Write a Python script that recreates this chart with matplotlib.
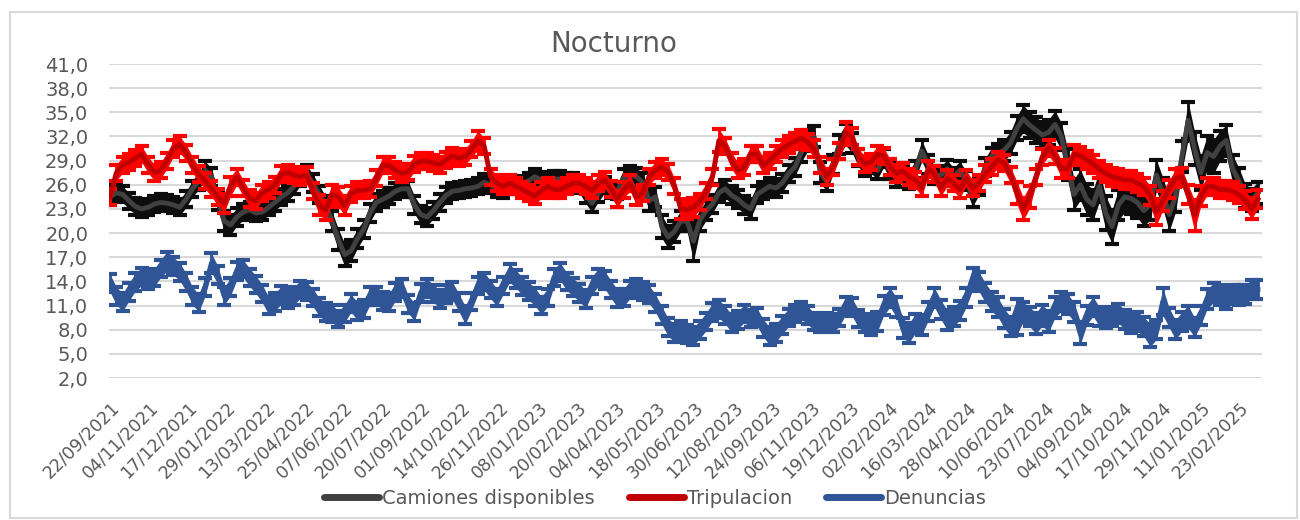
import numpy as np
import matplotlib
matplotlib.use('Agg')
import matplotlib.pyplot as plt
from matplotlib.lines import Line2D
from matplotlib.patches import Rectangle

# valores semanales (una muestra cada 7 categorias diarias)
camiones = [
    24.5, 25.0, 24.8, 24.0, 23.3, 23.0, 23.2, 23.6, 23.8, 23.7,
    23.5, 23.2, 24.2, 25.5, 26.5, 27.8, 27.0, 24.0, 21.5, 21.0,
    22.0, 22.6, 22.9, 22.5, 22.6, 23.2, 23.8, 24.5, 25.0, 25.8,
    27.0, 27.3, 26.2, 24.8, 23.5, 21.5, 19.2, 17.3, 17.8, 19.3,
    20.5, 22.5, 23.8, 24.2, 24.6, 25.2, 25.5, 25.5, 23.5, 22.3,
    22.0, 22.8, 23.8, 24.7, 25.2, 25.3, 25.5, 25.6, 25.8, 26.3,
    26.0, 25.5, 25.4, 25.8, 25.9, 26.1, 26.5, 27.0, 26.6, 26.3,
    26.7, 26.7, 26.5, 26.4, 26.0, 24.8, 23.7, 24.9, 26.0, 25.4,
    25.2, 26.8, 27.2, 27.0, 26.3, 24.0, 24.5, 20.8, 19.5, 20.2,
    21.5, 21.5, 19.0, 21.6, 22.8, 23.6, 25.0, 25.5, 24.7, 24.2,
    23.5, 23.0, 24.8, 25.3, 25.8, 25.6, 26.2, 27.4, 28.2, 30.0,
    31.5, 32.0, 27.5, 26.4, 28.5, 31.0, 32.2, 31.2, 29.4, 28.2,
    28.5, 27.8, 29.3, 27.8, 26.8, 27.4, 26.6, 27.9, 30.2, 28.5,
    27.2, 27.2, 28.0, 27.0, 27.8, 26.5, 24.5, 25.8, 28.2, 29.5,
    29.9, 30.3, 31.2, 33.0, 34.2, 33.4, 32.8, 32.2, 32.5, 33.5,
    32.0, 28.5, 24.8, 26.0, 24.2, 23.5, 25.8, 22.5, 20.8, 23.5,
    24.5, 24.3, 23.8, 22.8, 23.5, 27.2, 25.0, 22.3, 24.5, 29.5,
    34.0, 30.5, 27.5, 30.0, 29.5, 30.8, 31.5, 28.0, 26.5, 24.6,
    24.1, 25.0,
]
camiones_err = [
    1.0, 1.0, 1.0, 1.0, 1.0, 1.0, 1.0, 1.0, 1.0, 1.0,
    1.0, 1.0, 1.0, 1.0, 1.1, 1.1, 1.1, 1.1, 1.2, 1.2,
    1.1, 1.0, 1.0, 1.0, 1.0, 1.0, 1.0, 1.0, 1.0, 1.0,
    1.1, 1.1, 1.1, 1.1, 1.1, 1.2, 1.3, 1.4, 1.3, 1.2,
    1.1, 1.1, 1.0, 1.0, 1.0, 1.0, 1.0, 1.0, 1.1, 1.1,
    1.1, 1.0, 1.0, 1.0, 1.0, 1.0, 1.0, 1.0, 1.0, 1.0,
    1.0, 1.0, 1.0, 1.0, 1.0, 1.0, 1.0, 1.0, 1.0, 1.0,
    1.0, 1.0, 1.0, 1.0, 1.0, 1.1, 1.1, 1.0, 1.0, 1.0,
    1.0, 1.1, 1.1, 1.1, 1.1, 1.2, 1.2, 1.4, 1.4, 1.3,
    1.3, 1.3, 2.5, 1.3, 1.2, 1.1, 1.1, 1.1, 1.1, 1.1,
    1.1, 1.2, 1.1, 1.1, 1.1, 1.1, 1.1, 1.1, 1.1, 1.2,
    1.3, 1.3, 1.3, 1.2, 1.2, 1.2, 1.3, 1.2, 1.1, 1.1,
    1.1, 1.1, 1.1, 1.1, 1.1, 1.1, 1.1, 1.1, 1.3, 1.2,
    1.1, 1.1, 1.1, 1.1, 1.1, 1.2, 1.2, 1.1, 1.1, 1.1,
    1.2, 1.3, 1.4, 1.5, 1.7, 1.6, 1.6, 1.6, 1.6, 1.7,
    1.7, 1.9, 1.9, 1.9, 1.9, 1.9, 1.9, 2.1, 2.1, 1.9,
    1.9, 1.9, 1.9, 1.9, 1.9, 1.9, 1.9, 2.1, 1.9, 1.9,
    2.3, 2.1, 2.1, 2.1, 2.1, 1.9, 1.9, 1.7, 1.6, 1.5,
    1.4, 1.4,
]

tripulacion = [
    24.5, 27.5, 28.5, 28.8, 29.3, 29.8, 28.5, 27.5, 27.8, 29.0,
    30.5, 31.0, 30.0, 28.5, 27.3, 26.5, 25.5, 24.5, 23.7, 25.8,
    27.0, 25.6, 24.3, 24.0, 25.0, 25.4, 26.0, 27.3, 27.5, 27.2,
    27.0, 27.2, 25.2, 23.5, 22.8, 24.8, 24.5, 23.4, 24.9, 25.3,
    25.3, 25.5, 26.8, 28.4, 28.4, 27.8, 27.4, 27.6, 28.6, 28.9,
    28.9, 28.7, 28.5, 29.1, 29.6, 29.3, 29.5, 30.4, 31.5, 30.8,
    27.0, 26.2, 25.8, 26.2, 25.8, 25.4, 25.0, 24.6, 25.3, 25.8,
    25.4, 25.4, 25.8, 26.2, 26.2, 25.8, 25.3, 26.2, 26.6, 25.5,
    24.2, 25.4, 26.2, 24.5, 25.0, 27.0, 27.8, 28.2, 27.6, 25.8,
    23.0, 22.9, 23.2, 23.9, 25.2, 27.0, 31.5, 30.8, 29.0, 27.8,
    28.2, 29.8, 29.8, 28.4, 29.0, 29.8, 30.5, 31.0, 31.4, 31.8,
    31.3, 30.5, 28.5, 27.0, 28.2, 30.2, 32.5, 32.0, 29.5, 28.6,
    28.8, 29.8, 29.6, 28.2, 27.4, 27.7, 27.0, 26.6, 25.6, 28.0,
    27.3, 25.6, 26.8, 26.2, 25.4, 26.8, 25.6, 26.2, 27.4, 28.2,
    29.1, 28.7, 27.2, 25.0, 23.0, 24.5, 27.0, 29.5, 30.6, 29.6,
    28.0, 28.0, 29.8, 29.6, 29.1, 28.6, 27.9, 27.4, 27.0, 26.8,
    26.6, 26.6, 26.2, 25.8, 24.7, 22.6, 24.0, 25.5, 26.8, 27.0,
    24.8, 22.2, 24.6, 25.8, 25.8, 25.4, 25.4, 25.2, 24.8, 24.1,
    23.0, 24.2,
]
tripulacion_err = [
    1.0, 1.0, 1.0, 1.0, 1.0, 1.0, 1.0, 1.0, 1.0, 1.0,
    1.0, 1.0, 1.0, 1.0, 1.0, 1.0, 1.0, 1.0, 1.2, 1.2,
    1.0, 1.0, 1.0, 1.0, 1.0, 1.0, 1.0, 1.0, 1.0, 1.0,
    1.0, 1.0, 1.0, 1.2, 1.2, 1.2, 1.2, 1.2, 1.0, 1.0,
    1.0, 1.0, 1.0, 1.0, 1.0, 1.0, 1.0, 1.0, 1.0, 1.0,
    1.0, 1.0, 1.0, 1.0, 1.0, 1.0, 1.0, 1.0, 1.2, 1.0,
    1.0, 1.0, 1.0, 1.0, 1.0, 1.0, 1.0, 1.0, 1.0, 1.0,
    1.0, 1.0, 1.0, 1.0, 1.0, 1.0, 1.0, 1.0, 1.0, 1.0,
    1.0, 1.0, 1.0, 1.0, 1.0, 1.0, 1.0, 1.0, 1.0, 1.0,
    1.2, 1.2, 1.2, 1.0, 1.0, 1.0, 1.4, 1.0, 1.0, 1.0,
    1.0, 1.0, 1.0, 1.0, 1.0, 1.0, 1.0, 1.0, 1.0, 1.0,
    1.0, 1.0, 1.0, 1.0, 1.0, 1.0, 1.3, 1.0, 1.0, 1.0,
    1.0, 1.0, 1.0, 1.0, 1.0, 1.0, 1.0, 1.0, 1.0, 1.0,
    1.0, 1.0, 1.0, 1.0, 1.0, 1.0, 1.0, 1.0, 1.0, 1.0,
    1.0, 1.0, 1.0, 1.4, 1.4, 1.4, 1.0, 1.0, 1.0, 1.0,
    1.1, 1.1, 1.1, 1.1, 1.1, 1.1, 1.1, 1.1, 1.1, 1.1,
    1.1, 1.1, 1.1, 1.1, 1.2, 1.6, 1.2, 1.1, 1.1, 1.1,
    1.2, 1.9, 1.2, 1.1, 1.1, 1.1, 1.1, 1.1, 1.1, 1.1,
    1.3, 1.1,
]

denuncias = [
    13.8, 12.2, 11.4, 12.7, 13.9, 14.6, 14.1, 14.5, 15.6, 16.5,
    15.9, 15.2, 13.9, 12.2, 11.3, 13.3, 16.3, 14.8, 12.2, 13.3,
    15.3, 15.6, 14.5, 13.6, 12.5, 11.0, 11.4, 12.3, 11.8, 12.2,
    13.0, 12.8, 12.0, 10.8, 10.2, 10.0, 9.3, 10.0, 11.3, 10.3,
    10.6, 12.2, 12.2, 11.6, 11.4, 12.7, 13.2, 11.2, 10.2, 12.6,
    13.2, 12.5, 11.8, 12.4, 12.8, 11.4, 9.8, 11.5, 13.5, 14.0,
    13.0, 12.0, 13.5, 15.0, 14.3, 13.4, 12.8, 12.1, 11.0, 12.0,
    14.5, 15.2, 14.0, 13.3, 12.6, 11.8, 13.5, 14.5, 14.2, 13.0,
    11.9, 12.0, 13.0, 13.2, 12.8, 12.4, 11.3, 9.8, 8.3, 7.6,
    8.0, 7.5, 7.2, 8.0, 9.0, 10.2, 10.6, 9.8, 8.8, 9.2,
    10.0, 9.4, 9.6, 8.2, 7.2, 7.6, 8.6, 9.5, 10.0, 10.4,
    9.8, 9.0, 8.8, 9.0, 8.8, 9.5, 11.0, 10.8, 9.4, 8.8,
    8.6, 9.0, 11.0, 12.0, 10.8, 8.2, 7.6, 8.8, 8.6, 10.3,
    12.0, 10.5, 9.2, 9.6, 10.4, 12.0, 14.3, 14.0, 12.6, 11.5,
    10.8, 9.4, 8.4, 9.6, 10.2, 9.6, 8.8, 9.8, 9.0, 10.8,
    11.5, 11.2, 10.2, 7.6, 9.8, 10.9, 9.6, 9.4, 9.6, 10.0,
    9.3, 8.8, 9.0, 8.4, 7.3, 8.0, 11.5, 9.5, 8.0, 9.0,
    9.6, 8.3, 9.8, 11.8, 12.6, 12.3, 11.8, 12.4, 12.3, 12.4,
    13.0, 13.0,
]
denuncias_err = [
    1.1, 1.1, 1.1, 1.1, 1.1, 1.1, 1.1, 1.1, 1.1, 1.2,
    1.1, 1.1, 1.1, 1.1, 1.1, 1.1, 1.2, 1.1, 1.1, 1.1,
    1.1, 1.1, 1.1, 1.1, 1.1, 1.1, 1.1, 1.1, 1.1, 1.1,
    1.1, 1.1, 1.1, 1.1, 1.1, 1.1, 1.0, 1.1, 1.1, 1.1,
    1.1, 1.1, 1.1, 1.1, 1.1, 1.1, 1.1, 1.1, 1.1, 1.1,
    1.1, 1.1, 1.1, 1.1, 1.1, 1.1, 1.1, 1.1, 1.1, 1.1,
    1.1, 1.1, 1.1, 1.1, 1.1, 1.1, 1.1, 1.1, 1.1, 1.1,
    1.1, 1.1, 1.1, 1.1, 1.1, 1.1, 1.1, 1.1, 1.1, 1.1,
    1.1, 1.1, 1.1, 1.1, 1.1, 1.1, 1.1, 1.1, 1.1, 1.1,
    1.1, 1.1, 1.1, 1.1, 1.1, 1.1, 1.1, 1.1, 1.1, 1.1,
    1.1, 1.1, 1.1, 1.1, 1.1, 1.1, 1.1, 1.1, 1.1, 1.1,
    1.1, 1.1, 1.1, 1.1, 1.1, 1.1, 1.1, 1.1, 1.1, 1.1,
    1.2, 1.2, 1.2, 1.2, 1.2, 1.2, 1.2, 1.2, 1.2, 1.2,
    1.2, 1.2, 1.2, 1.2, 1.2, 1.2, 1.4, 1.2, 1.2, 1.2,
    1.2, 1.2, 1.2, 2.2, 1.2, 1.2, 1.3, 1.3, 1.3, 1.3,
    1.2, 1.2, 1.2, 1.4, 1.2, 1.2, 1.2, 1.2, 1.2, 1.2,
    1.2, 1.2, 1.2, 1.2, 1.4, 1.2, 1.7, 1.2, 1.2, 1.2,
    1.4, 1.2, 1.2, 1.2, 1.2, 1.2, 1.2, 1.2, 1.2, 1.2,
    1.2, 1.2,
]

# etiquetas del eje de categorias (una cada 43 filas)
etiquetas_x = [
    '22/09/2021', '04/11/2021', '17/12/2021', '29/01/2022', '13/03/2022',
    '25/04/2022', '07/06/2022', '20/07/2022', '01/09/2022', '14/10/2022',
    '26/11/2022', '08/01/2023', '20/02/2023', '04/04/2023', '18/05/2023',
    '30/06/2023', '12/08/2023', '24/09/2023', '06/11/2023', '19/12/2023',
    '02/02/2024', '16/03/2024', '28/04/2024', '10/06/2024', '23/07/2024',
    '04/09/2024', '17/10/2024', '29/11/2024', '11/01/2025', '23/02/2025',
]
n_categorias = 1272

nombres = ['Camiones disponibles', 'Tripulacion', 'Denuncias']
colores_linea = ['#404040', '#C00000', '#2F5597']
colores_error = ['#0D0D0D', '#FF0000', '#2F5597']

x = np.arange(len(camiones)) * 7
x_ticks = np.arange(len(etiquetas_x)) * 43
valores_y = np.arange(2, 42, 3)

fig = plt.figure(figsize=(13, 5.2), dpi=100)
fig.patches.append(Rectangle((10 / 1300, 2 / 520), 1287 / 1300, 506 / 520,
                             transform=fig.transFigure, fill=False,
                             edgecolor='#D9D9D9', linewidth=1.5))
ax = fig.add_axes([109 / 1300, 142 / 520, 1153 / 1300, 314 / 520])

datos = [(camiones, camiones_err), (tripulacion, tripulacion_err),
         (denuncias, denuncias_err)]
handles = []
for i, (vals, err) in enumerate(datos):
    v = np.array(vals)
    e = np.array(err)
    z = 2 + i * 3
    ax.fill_between(x, v - e, v + e, color=colores_error[i], lw=0, zorder=z)
    ax.errorbar(x, v, yerr=e, fmt='none', ecolor=colores_error[i],
                elinewidth=2, capsize=5, capthick=3, zorder=z + 1)
    ax.plot(x, v, color=colores_linea[i], lw=3.5, zorder=z + 2,
            solid_joinstyle='round')
    handles.append(Line2D([], [], color=colores_linea[i], lw=5,
                          solid_capstyle='round'))

ax.set_ylim(2, 41)
ax.set_yticks(valores_y)
ax.set_yticklabels([f'{v:.1f}'.replace('.', ',') for v in valores_y])
ax.set_xlim(-1.1, n_categorias - 0.5)
ax.set_xticks(x_ticks)
ax.set_xticklabels(etiquetas_x, rotation=45, ha='right', va='top',
                   rotation_mode='anchor')
ax.tick_params(axis='both', length=0, labelcolor='#595959')
ax.tick_params(axis='y', pad=15, labelsize=14)
ax.tick_params(axis='x', pad=15, labelsize=12.5)
ax.yaxis.grid(True, color='#D9D9D9', linewidth=1.5)
ax.set_axisbelow(True)
for s in ax.spines.values():
    s.set_visible(False)

fig.text(614 / 1300, 1 - 44 / 520, 'Nocturno', ha='center', va='center',
         fontsize=20, color='#595959')
fig.legend(handles, nombres, loc='center', bbox_to_anchor=(655 / 1300, 1 - 498 / 520),
           ncol=3, frameon=False, fontsize=14, handlelength=2.83,
           handletextpad=0.15, columnspacing=1.75, labelcolor='#595959')

fig.savefig('out.png', dpi=100)
